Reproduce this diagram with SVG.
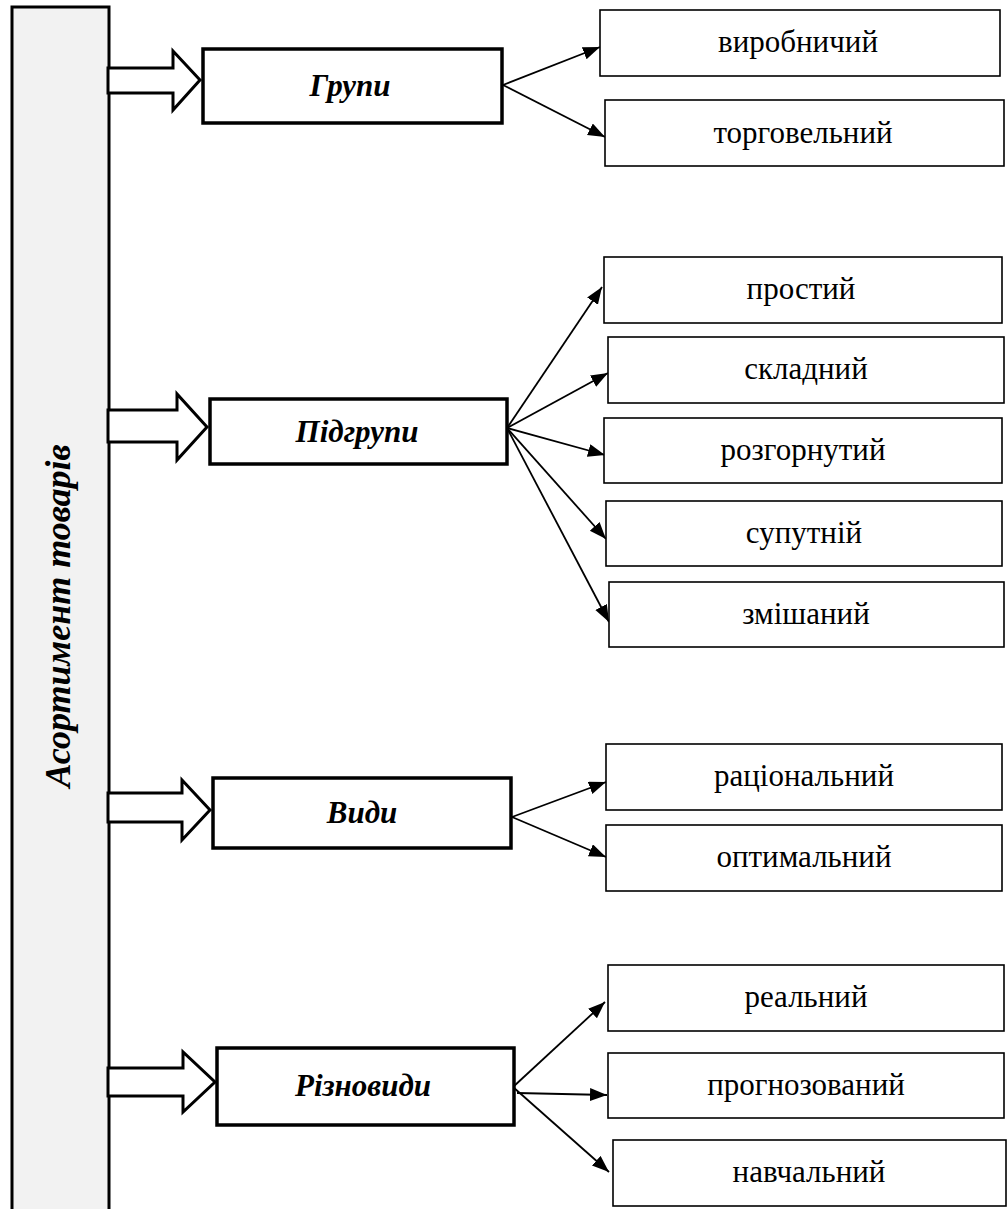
<svg xmlns="http://www.w3.org/2000/svg" width="1008" height="1209" viewBox="0 0 1008 1209">
<style>
.col{fill:#f2f2f2;stroke:#000;stroke-width:3}
.blk{fill:#fff;stroke:#000;stroke-width:3;stroke-linejoin:miter}
.main{fill:#fff;stroke:#000;stroke-width:3.5}
.leaf{fill:#fff;stroke:#000;stroke-width:1.6}
.mt{font-family:"Liberation Serif","Times New Roman",serif;font-weight:bold;font-style:italic;font-size:31px;text-anchor:middle}
.lt{font-family:"Liberation Serif","Times New Roman",serif;font-size:31px;text-anchor:middle}
.ct{font-family:"Liberation Serif","Times New Roman",serif;font-weight:bold;font-style:italic;font-size:36px;text-anchor:middle}
.cn{stroke:#000;stroke-width:1.8;fill:none;marker-end:url(#ah)}
</style>
<defs>
<marker id="ah" markerUnits="userSpaceOnUse" markerWidth="18" markerHeight="14" refX="17" refY="6.5" orient="auto">
<path d="M0,0 L17,6.5 L0,13 z" fill="#000"/>
</marker>
</defs>
<g id="column">
<rect class="col" x="12" y="7" width="97" height="1220"/>
<text class="ct" transform="translate(70,616) rotate(-90)">Асортимент товарів</text>
</g>
<g id="block-arrows">
<polygon class="blk" points="108,68 173,68 173,51 200,80 173,110 173,93 108,93"/>
<polygon class="blk" points="108,410 177,410 177,394 207,427 177,460 177,442 108,442"/>
<polygon class="blk" points="108,793 182,793 182,780 210,810 182,840 182,822 108,822"/>
<polygon class="blk" points="108,1068 183,1068 183,1052 215,1082 183,1112 183,1096 108,1096"/>
</g>
<g id="connectors">
<line class="cn" x1="503" y1="85" x2="600" y2="47"/>
<line class="cn" x1="503" y1="85" x2="605" y2="137"/>
<line class="cn" x1="507" y1="428" x2="602" y2="287"/>
<line class="cn" x1="507" y1="428" x2="608" y2="373"/>
<line class="cn" x1="507" y1="428" x2="605" y2="455"/>
<line class="cn" x1="507" y1="428" x2="606" y2="539"/>
<line class="cn" x1="507" y1="428" x2="609" y2="622"/>
<line class="cn" x1="512" y1="817" x2="606" y2="782"/>
<line class="cn" x1="512" y1="817" x2="606" y2="857"/>
<line class="cn" x1="513" y1="1087" x2="605" y2="1002"/>
<line class="cn" x1="517" y1="1093" x2="607" y2="1095"/>
<line class="cn" x1="513" y1="1087" x2="609" y2="1172"/>
</g>
<g id="n-grupy"><rect class="main" x="203" y="49" width="299" height="74"/><text class="mt" x="350" y="96">Групи</text></g>
<g id="n-pidgrupy"><rect class="main" x="210" y="399" width="297" height="65"/><text class="mt" x="357" y="442">Підгрупи</text></g>
<g id="n-vydy"><rect class="main" x="213" y="778" width="298" height="70"/><text class="mt" x="362" y="823">Види</text></g>
<g id="n-riznovydy"><rect class="main" x="217" y="1048" width="297" height="77"/><text class="mt" x="363" y="1096">Різновиди</text></g>
<g id="l-vyrobnychyi"><rect class="leaf" x="600" y="10" width="400" height="66"/><text class="lt" x="798" y="52">виробничий</text></g>
<g id="l-torhovelnyi"><rect class="leaf" x="605" y="100" width="399" height="66"/><text class="lt" x="803" y="143">торговельний</text></g>
<g id="l-prostyi"><rect class="leaf" x="604" y="257" width="398" height="66"/><text class="lt" x="801" y="299">простий</text></g>
<g id="l-skladnyi"><rect class="leaf" x="608" y="337" width="396" height="66"/><text class="lt" x="806" y="379">складний</text></g>
<g id="l-rozhornutyi"><rect class="leaf" x="604" y="418" width="398" height="65"/><text class="lt" x="803" y="460">розгорнутий</text></g>
<g id="l-suputnii"><rect class="leaf" x="606" y="501" width="396" height="65"/><text class="lt" x="804" y="543">супутній</text></g>
<g id="l-zmishanyi"><rect class="leaf" x="609" y="582" width="395" height="65"/><text class="lt" x="806" y="624">змішаний</text></g>
<g id="l-ratsionalnyi"><rect class="leaf" x="606" y="744" width="396" height="66"/><text class="lt" x="804" y="786">раціональний</text></g>
<g id="l-optymalnyi"><rect class="leaf" x="606" y="825" width="396" height="66"/><text class="lt" x="804" y="867">оптимальний</text></g>
<g id="l-realnyi"><rect class="leaf" x="608" y="965" width="396" height="66"/><text class="lt" x="806" y="1007">реальний</text></g>
<g id="l-prohnozovanyi"><rect class="leaf" x="608" y="1053" width="396" height="65"/><text class="lt" x="806" y="1095">прогнозований</text></g>
<g id="l-navchalnyi"><rect class="leaf" x="613" y="1140" width="393" height="66"/><text class="lt" x="809" y="1182">навчальний</text></g>
</svg>
